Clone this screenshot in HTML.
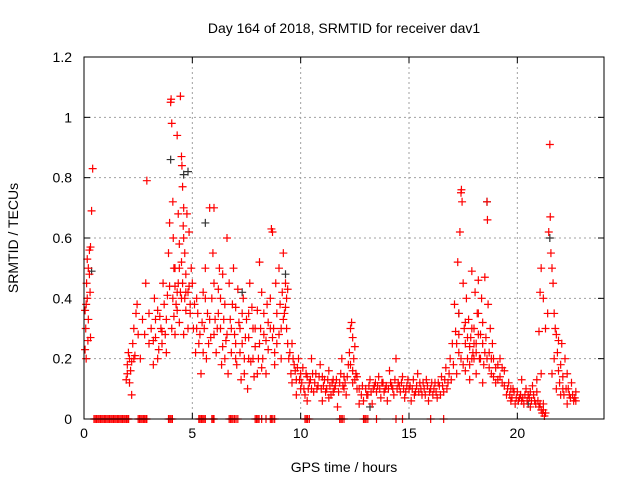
<!DOCTYPE html>
<html><head><meta charset="utf-8"><style>
body{margin:0;background:#fff;}
svg{display:block;font-family:"Liberation Sans",sans-serif;}
</style></head><body>
<svg id="chart" width="640" height="480">
<text x="344" y="33" font-size="14" text-anchor="middle">Day 164 of 2018, SRMTID for receiver dav1</text>
<text x="344" y="472" font-size="14" text-anchor="middle">GPS time / hours</text>
<text transform="translate(18,238) rotate(-90)" font-size="14" text-anchor="middle">SRMTID / TECUs</text>
<g id="grid"></g>
<g id="ticks"></g>
<g id="dark"></g>
<g id="red"></g>
<rect x="84" y="57" width="520" height="362" fill="none" stroke="#000" stroke-width="1"/>
</svg>
<script>
const xTicks=[0,5,10,15,20];
const yTicks=[0,0.2,0.4,0.6,0.8,1,1.2];
const yTickLabels=["0","0.2","0.4","0.6","0.8","1","1.2"];
const zeroTimes=[0.46,0.52,0.58,0.64,0.7,0.76,0.82,0.88,0.94,1.0,1.06,1.12,1.18,1.24,1.3,1.36,1.42,1.48,1.54,1.6,1.66,1.72,1.78,1.84,1.9,1.96,2.02,2.06,2.5,2.56,2.62,2.68,2.74,2.8,2.86,2.9,3.9,3.96,4.02,4.08,5.3,5.36,5.42,5.48,5.54,5.6,5.9,5.96,6.0,6.7,6.76,6.82,6.88,6.95,7.02,7.1,7.9,7.96,8.02,8.08,8.2,8.4,8.6,8.66,8.72,8.8,10.2,10.26,10.32,10.4,11.8,11.86,11.92,12.0,12.9,12.96,13.02,13.1,13.5,14.4,14.7,16.0,16.6];
const redPts=[
[0.05,0.23],[0.08,0.3],[0.1,0.38],[0.12,0.45],[0.15,0.53],[0.2,0.5],[0.25,0.56],[0.3,0.57],[0.35,0.69],[0.4,0.83],[0.3,0.27],[0.2,0.33],[0.15,0.4],[0.25,0.48],[0.1,0.2],[0.05,0.36],[0.18,0.26],[0.28,0.42],
[1.95,0.13],[2.0,0.18],[2.05,0.22],[2.1,0.2],[2.15,0.16],[2.2,0.08],[2.25,0.25],[2.3,0.3],[2.35,0.21],[2.4,0.35],[2.45,0.38],[2.5,0.28],[2.0,0.15],[2.1,0.12],[2.2,0.19],[2.3,0.2],
[2.6,0.2],[2.7,0.33],[2.8,0.28],[2.85,0.45],[2.9,0.79],[3.0,0.25],[3.1,0.3],[3.2,0.18],[3.25,0.4],[3.3,0.27],[3.4,0.36],[3.45,0.23],[3.5,0.34],[3.6,0.29],[3.65,0.45],[3.7,0.38],[3.8,0.33],[3.85,0.41],[3.2,0.26],[3.4,0.2],[3.6,0.25],[3.8,0.22],[3.0,0.35],[3.3,0.33],[3.55,0.3],[3.75,0.28],
[3.9,0.55],[3.95,0.65],[4.0,1.05],[4.02,1.06],[4.05,0.98],[4.1,0.72],[4.12,0.6],[4.15,0.5],[4.2,0.44],[4.25,0.38],[4.3,0.94],[4.35,0.68],[4.4,0.58],[4.45,1.07],[4.5,0.87],[4.52,0.84],[4.55,0.77],[4.58,0.64],[4.6,0.7],[4.65,0.55],[4.7,0.48],[4.75,0.68],[4.8,0.42],[4.85,0.62],[4.9,0.35],[4.95,0.5],[4.3,0.42],[4.4,0.32],[4.5,0.4],[4.2,0.28],[4.6,0.28],[4.7,0.36],[4.05,0.3],[3.95,0.44],
[4.1,0.4],[4.2,0.5],[4.3,0.36],[4.35,0.45],[4.45,0.42],[4.5,0.52],[4.55,0.45],[4.65,0.4],[4.7,0.42],[4.8,0.3],[4.85,0.44],[4.9,0.38],[4.15,0.34],[4.4,0.5],[4.6,0.6],
[5.0,0.45],[5.1,0.38],[5.2,0.3],[5.3,0.25],[5.4,0.15],[5.45,0.32],[5.5,0.42],[5.6,0.5],[5.65,0.2],[5.7,0.35],[5.8,0.7],[5.85,0.27],[5.9,0.4],[5.95,0.55],[6.0,0.7],[6.05,0.33],[6.1,0.22],[6.2,0.43],[6.25,0.5],[6.3,0.3],[6.35,0.18],[6.4,0.48],[6.5,0.38],[6.55,0.26],[6.6,0.6],[6.65,0.15],[6.7,0.45],[6.75,0.33],[6.8,0.22],[6.9,0.5],[6.95,0.28],[7.0,0.37],[7.05,0.18],[7.1,0.43],[7.2,0.3],[7.25,0.13],[7.3,0.25],[7.35,0.4],[7.4,0.2],[7.5,0.33],[7.55,0.1],[7.6,0.27],[7.65,0.45],[7.7,0.19],[7.8,0.3],[7.85,0.14],[7.9,0.24],[8.0,0.36],[8.05,0.2],[8.1,0.52],[8.15,0.3],[8.2,0.42],[8.25,0.2],[8.3,0.28],[8.4,0.15],[8.45,0.38],[8.5,0.23],[8.6,0.4],[8.65,0.63],[8.7,0.62],[8.75,0.3],[8.8,0.18],[8.85,0.45],[8.9,0.25],[9.0,0.5],[9.05,0.38],[9.1,0.3],[9.15,0.42],[9.2,0.55],[9.25,0.35],[9.3,0.45],[9.35,0.4],[9.4,0.25],[9.45,0.2],
[5.2,0.4],[5.5,0.22],[6.0,0.28],[6.4,0.24],[6.8,0.3],[7.2,0.22],[7.6,0.35],[8.0,0.15],[8.4,0.26],[8.8,0.22],[6.2,0.35],[7.0,0.25],[7.8,0.2],[8.6,0.3],[5.8,0.33],
[5.05,0.3],[5.15,0.22],[5.25,0.35],[5.35,0.28],[5.55,0.3],[5.75,0.25],[6.15,0.3],[6.3,0.4],[6.45,0.33],[6.6,0.28],[6.85,0.38],[7.0,0.2],[7.15,0.32],[7.3,0.35],[7.45,0.27],[7.6,0.2],[7.75,0.37],[7.9,0.3],[8.1,0.25],[8.3,0.35],[8.5,0.32],[8.7,0.27],[8.9,0.35],[9.0,0.28],[9.1,0.2],[9.2,0.33],[9.3,0.37],[9.4,0.43],[9.35,0.3],[6.5,0.2],[7.4,0.15],[8.2,0.17],[6.0,0.45],[5.6,0.4],
[9.5,0.22],[9.55,0.15],[9.6,0.25],[9.7,0.18],[9.8,0.13],[9.9,0.2],[10.0,0.1],[10.1,0.17],[10.2,0.08],[10.3,0.14],[10.4,0.12],[10.5,0.2],[10.6,0.09],[10.7,0.15],[10.8,0.11],[10.9,0.18],[11.0,0.06],[11.1,0.13],[11.2,0.1],[11.3,0.16],[11.4,0.08],[11.5,0.13],[11.6,0.11],[11.7,0.04],[11.8,0.12],[11.9,0.2],[12.0,0.14],[12.1,0.08],[12.2,0.18],[12.3,0.3],[12.35,0.32],[12.4,0.27],[12.45,0.2],[12.5,0.24],[12.55,0.15],[12.6,0.1],[12.7,0.05],[12.8,0.08],[9.6,0.12],[10.0,0.15],[10.5,0.1],[11.0,0.14],[11.5,0.09],[12.0,0.1],[12.4,0.12],[9.8,0.08],[10.3,0.06],[11.3,0.07],
[9.65,0.2],[9.75,0.16],[9.85,0.17],[9.95,0.13],[10.05,0.12],[10.15,0.1],[10.25,0.15],[10.35,0.1],[10.45,0.13],[10.55,0.15],[10.65,0.12],[10.75,0.1],[10.85,0.14],[10.95,0.1],[11.05,0.11],[11.15,0.09],[11.25,0.13],[11.35,0.11],[11.45,0.12],[11.55,0.1],[11.65,0.13],[11.75,0.09],[11.85,0.15],[11.95,0.11],[12.05,0.12],[12.15,0.14],[12.25,0.22],[12.3,0.18],[12.4,0.16],[12.5,0.13],[12.6,0.14],[12.7,0.1],[12.85,0.11],
[12.9,0.06],[13.0,0.1],[13.1,0.08],[13.2,0.13],[13.3,0.05],[13.4,0.11],[13.5,0.09],[13.6,0.14],[13.7,0.07],[13.8,0.12],[13.9,0.1],[14.0,0.06],[14.1,0.16],[14.2,0.11],[14.3,0.08],[14.4,0.2],[14.5,0.12],[14.6,0.09],[14.7,0.14],[14.8,0.07],[14.9,0.11],[15.0,0.1],[15.1,0.06],[15.2,0.13],[15.3,0.09],[15.4,0.15],[15.5,0.12],[15.6,0.08],[15.7,0.1],[15.8,0.13],[15.9,0.06],[16.0,0.1],[16.1,0.08],[16.2,0.12],[16.3,0.07],[16.4,0.11],[16.5,0.14],[16.6,0.09],[16.7,0.17],[16.8,0.12],[16.9,0.2],[17.0,0.25],[17.05,0.18],[17.1,0.38],[17.15,0.29],
[13.05,0.08],[13.15,0.11],[13.25,0.09],[13.35,0.1],[13.45,0.12],[13.55,0.11],[13.65,0.1],[13.75,0.12],[13.85,0.09],[13.95,0.11],[14.05,0.1],[14.15,0.12],[14.25,0.1],[14.35,0.13],[14.45,0.1],[14.55,0.11],[14.65,0.12],[14.75,0.1],[14.85,0.09],[14.95,0.13],[15.05,0.11],[15.15,0.1],[15.25,0.08],[15.35,0.11],[15.45,0.09],[15.55,0.1],[15.65,0.12],[15.75,0.08],[15.85,0.11],[15.95,0.09],[16.05,0.12],[16.15,0.1],[16.25,0.09],[16.35,0.12],[16.45,0.08],[16.55,0.11],[16.65,0.13],[16.75,0.1],[16.85,0.15],[16.95,0.13],
[17.2,0.15],[17.25,0.52],[17.3,0.35],[17.35,0.62],[17.4,0.75],[17.42,0.76],[17.45,0.72],[17.5,0.45],[17.55,0.3],[17.6,0.25],[17.65,0.4],[17.7,0.2],[17.75,0.33],[17.8,0.18],[17.85,0.27],[17.9,0.49],[17.95,0.22],[18.0,0.3],[18.05,0.42],[18.1,0.25],[18.15,0.35],[18.2,0.46],[18.25,0.2],[18.3,0.28],[18.35,0.4],[18.4,0.32],[18.45,0.18],[18.5,0.47],[18.55,0.27],[18.6,0.72],[18.62,0.66],[18.65,0.38],[18.7,0.22],[18.75,0.3],[18.8,0.15],[18.85,0.25],[18.9,0.2],[19.0,0.17],[19.1,0.13],[19.2,0.2],[19.3,0.12],[19.4,0.16],[17.5,0.18],[17.8,0.13],[18.1,0.15],[18.4,0.12],[17.3,0.22],[18.0,0.2],
[17.2,0.25],[17.3,0.28],[17.4,0.2],[17.6,0.32],[17.7,0.27],[17.8,0.24],[17.9,0.2],[18.0,0.25],[18.1,0.22],[18.2,0.28],[18.3,0.2],[18.4,0.25],[18.5,0.22],[18.6,0.2],[18.7,0.17],[18.8,0.2],[18.9,0.14],[19.0,0.12],[19.1,0.18],[19.2,0.14],[19.3,0.17],[19.4,0.11],[17.6,0.16],[17.9,0.3],[18.2,0.35],
[19.5,0.08],[19.6,0.12],[19.7,0.06],[19.8,0.1],[19.9,0.05],[20.0,0.09],[20.1,0.07],[20.2,0.13],[20.3,0.05],[20.4,0.1],[20.5,0.08],[20.6,0.04],[20.7,0.11],[20.8,0.06],[20.9,0.09],[21.0,0.04],[21.1,0.15],[21.15,0.02],[21.2,0.03],[21.25,0.01],[21.3,0.02],[19.7,0.1],[20.2,0.06],[20.6,0.09],
[19.55,0.1],[19.65,0.08],[19.75,0.07],[19.85,0.09],[19.95,0.07],[20.05,0.06],[20.15,0.08],[20.25,0.07],[20.35,0.08],[20.45,0.06],[20.55,0.07],[20.65,0.06],[20.75,0.08],[20.85,0.05],[20.95,0.06],[21.05,0.05],[21.2,0.05],[21.1,0.03],
[20.9,0.13],[21.0,0.29],[21.05,0.42],[21.1,0.5],[21.2,0.4],[21.3,0.3],[21.4,0.35],[21.45,0.62],[21.5,0.91],[21.52,0.67],[21.55,0.55],[21.6,0.5],[21.65,0.45],[21.7,0.35],[21.75,0.3],[21.8,0.28],[21.85,0.22],[21.9,0.26],[22.0,0.18],[22.05,0.25],[22.1,0.14],[22.2,0.2],[22.25,0.1],[22.3,0.15],[22.4,0.08],[22.5,0.12],[22.6,0.06],[22.7,0.09],[21.6,0.15],[21.8,0.1],[22.0,0.08],[22.3,0.05],
[21.95,0.12],[22.1,0.1],[22.15,0.08],[22.35,0.1],[22.45,0.07],[22.55,0.08],[22.65,0.07],[22.7,0.06],[21.7,0.2],[21.9,0.16]
];
const darkPts=[[4.0,0.86],[4.6,0.81],[4.8,0.82],[5.6,0.65],[0.35,0.49],[21.5,0.6],[18.6,0.72],[9.3,0.48],[7.3,0.42],[13.2,0.04],[17.3,0.35],[20.5,0.05]];
const X0=84,X1=604,Y0=419,Y1=57,xMax=24,yMax=1.2;
function sx(v){return X0+(X1-X0)*v/xMax;}
function sy(v){return Y0-(Y0-Y1)*v/yMax;}
const NS="http://www.w3.org/2000/svg";
function mk(t,a,p){const e=document.createElementNS(NS,t);for(const k in a)e.setAttribute(k,a[k]);p.appendChild(e);return e;}
const grid=document.getElementById('grid'),ticks=document.getElementById('ticks');
xTicks.forEach((t,i)=>{const x=sx(t);
 if(t>0){const g=mk('line',{x1:x,x2:x,y1:Y1,y2:Y0,stroke:'#a0a0a0','stroke-dasharray':'2,3'},grid);
 
 }
 mk('line',{x1:x,x2:x,y1:Y0,y2:Y0-6,stroke:'#000'},ticks);mk('line',{x1:x,x2:x,y1:Y1,y2:Y1+6,stroke:'#000'},ticks);
 const l=mk('text',{x:x,y:Y0+19,'font-size':14,'text-anchor':'middle'},ticks);l.textContent=t;
 
 });
yTicks.forEach((t,i)=>{const y=sy(t);
 if(t>0&&t<yMax){const g=mk('line',{x1:X0,x2:X1,y1:y,y2:y,stroke:'#a0a0a0','stroke-dasharray':'2,3'},grid);
 
 }
 mk('line',{x1:X0,x2:X0+6,y1:y,y2:y,stroke:'#000'},ticks);mk('line',{x1:X1,x2:X1-6,y1:y,y2:y,stroke:'#000'},ticks);
 const l=mk('text',{x:X0-12,y:y+5,'font-size':14,'text-anchor':'end'},ticks);l.textContent=yTickLabels[i];
 
 });
function plus(p,x,y,c){const e=mk('path',{d:`M${x-4},${y}h8M${x},${y-4}v8`,stroke:c,'stroke-width':1.2,fill:'none'},p);return e;}
const dark=document.getElementById('dark'),red=document.getElementById('red');
darkPts.forEach(d=>{const e=plus(dark,sx(d[0]),sy(d[1]),'#333');
 
 });
redPts.forEach(d=>{const e=plus(red,sx(d[0]),sy(d[1]),'#f00');
 
 });
zeroTimes.forEach(t=>{const e=plus(red,sx(t),sy(0),'#f00');
 
 });
</script>
</body></html>
